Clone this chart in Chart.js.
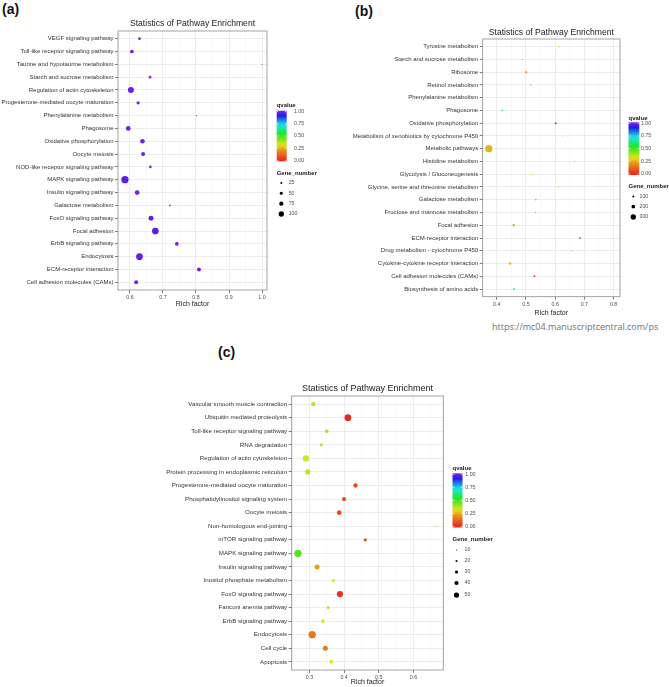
<!DOCTYPE html>
<html>
<head>
<meta charset="utf-8">
<script src="https://cdn.jsdelivr.net/npm/chart.js@4.4.0/dist/chart.umd.min.js"></script>
<style>
  body { margin: 0; background: #fff; width: 669px; height: 687px; position: relative; overflow: hidden; }
  canvas { position: absolute; }
  .tag { position: absolute; font: bold 14px "Liberation Sans", Arial, sans-serif; line-height: 14px; color: #111; }
  .url { position: absolute; font-family: "Open Sans", sans-serif; font-size: 9px; line-height: 10px; color: #707070; white-space: nowrap; }
</style>
</head>
<body>
<div class="tag" style="left:2px;top:2px">(a)</div>
<div class="tag" style="left:355px;top:4px">(b)</div>
<div class="tag" style="left:218px;top:345px">(c)</div>
<div class="url" style="left:492px;top:322px">https://mc04.manuscriptcentral.com/ps</div>

<canvas id="chartA" width="335" height="320" style="left:0;top:0"></canvas>
<canvas id="chartB" width="329" height="325" style="left:340px;top:0"></canvas>
<canvas id="chartC" width="350" height="357" style="left:150px;top:330px"></canvas>

<script>
// ---- panel (a) ----
const pathwaysA = [
  'VEGF signaling pathway',
  'Toll-like receptor signaling pathway',
  'Taurine and hypotaurine metabolism',
  'Starch and sucrose metabolism',
  'Regulation of actin cytoskeleton',
  'Progesterone-mediated oocyte maturation',
  'Phenylalanine metabolism',
  'Phagosome',
  'Oxidative phosphorylation',
  'Oocyte meiosis',
  'NOD-like receptor signaling pathway',
  'MAPK signaling pathway',
  'Insulin signaling pathway',
  'Galactose metabolism',
  'FoxO signaling pathway',
  'Focal adhesion',
  'ErbB signaling pathway',
  'Endocytosis',
  'ECM-receptor interaction',
  'Cell adhesion molecules (CAMs)'
];
const richA = [0.629, 0.606, 1.0, 0.661, 0.603, 0.625, 0.801, 0.595, 0.638, 0.640,
               0.662, 0.585, 0.622, 0.721, 0.664, 0.677, 0.742, 0.629, 0.809, 0.619];
const genesA = [41, 64, 3, 41, 116, 55, 9, 86, 86, 70, 41, 145, 86, 18, 93, 132, 64, 132, 70, 70];
const qvalA = [0.99, 0.98, 1.0, 1.0, 0.97, 0.99, 1.0, 0.98, 0.98, 0.98,
               1.0, 0.96, 0.98, 1.0, 0.97, 0.96, 0.98, 0.97, 0.98, 0.98];
const geneBreaksA = [25, 50, 75, 100];

// ---- panel (b) ----
const pathwaysB = [
  'Tyrosine metabolism',
  'Starch and sucrose metabolism',
  'Ribosome',
  'Retinol metabolism',
  'Phenylalanine metabolism',
  'Phagosome',
  'Oxidative phosphorylation',
  'Metabolism of xenobiotics by cytochrome P450',
  'Metabolic pathways',
  'Histidine metabolism',
  'Glycolysis / Gluconeogenesis',
  'Glycine, serine and threonine metabolism',
  'Galactose metabolism',
  'Fructose and mannose metabolism',
  'Focal adhesion',
  'ECM-receptor interaction',
  'Drug metabolism - cytochrome P450',
  'Cytokine-cytokine receptor interaction',
  'Cell adhesion molecules (CAMs)',
  'Biosynthesis of amino acids'
];
const richB = [0.613, 0.488, 0.501, 0.517, 0.799, 0.419, 0.602, 0.626, 0.373, 0.667,
               0.522, 0.611, 0.534, 0.533, 0.458, 0.685, 0.657, 0.446, 0.529, 0.459];
const genesB = [55, 60, 100, 62, 40, 80, 95, 58, 421, 52, 66, 54, 60, 58, 118, 78, 75, 120, 96, 92];
const qvalB = [0.27, 0.70, 0.19, 0.60, 0.30, 0.70, 0.01, 0.29, 0.27, 0.29,
               0.32, 0.29, 0.53, 0.69, 0.25, 0.95, 0.30, 0.27, 0.09, 0.69];
const geneBreaksB = [100, 200, 300];

// ---- panel (c) ----
const pathwaysC = [
  'Vascular smooth muscle contraction',
  'Ubiquitin mediated proteolysis',
  'Toll-like receptor signaling pathway',
  'RNA degradation',
  'Regulation of actin cytoskeleton',
  'Protein processing in endoplasmic reticulum',
  'Progesterone-mediated oocyte maturation',
  'Phosphatidylinositol signaling system',
  'Oocyte meiosis',
  'Non-homologous end-joining',
  'mTOR signaling pathway',
  'MAPK signaling pathway',
  'Insulin signaling pathway',
  'Inositol phosphate metabolism',
  'FoxO signaling pathway',
  'Fanconi anemia pathway',
  'ErbB signaling pathway',
  'Endocytosis',
  'Cell cycle',
  'Apoptosis'
];
const richC = [0.311, 0.411, 0.350, 0.334, 0.290, 0.295, 0.433, 0.400, 0.386, 0.665,
               0.461, 0.267, 0.322, 0.369, 0.388, 0.354, 0.339, 0.308, 0.346, 0.363];
const genesC = [41, 64, 35, 29, 60, 50, 41, 41, 45, 14, 31, 70, 48, 29, 60, 26, 35, 70, 48, 38];
const qvalC = [0.375, 0.02, 0.29, 0.39, 0.35, 0.36, 0.075, 0.09, 0.09, 0.30,
               0.09, 0.48, 0.24, 0.36, 0.04, 0.39, 0.32, 0.175, 0.175, 0.33];
const geneBreaksC = [10, 20, 30, 40, 50];

const qBreaks = [0, 0.25, 0.5, 0.75, 1];

const FONT = '"Liberation Sans", Arial, sans-serif';
Chart.defaults.font.family = FONT;

// qvalue -> rainbow colour (red .. purple), same as the colour bar
const hueStops = [[0, 0], [0.25, 40], [0.5, 110], [0.75, 190], [1, 272]];
function qColor(q) {
  let h = 272;
  for (let i = 1; i < hueStops.length; i++) {
    if (q <= hueStops[i][0]) {
      const [q0, h0] = hueStops[i - 1], [q1, h1] = hueStops[i];
      h = h0 + (h1 - h0) * (q - q0) / (q1 - q0);
      break;
    }
  }
  return `hsl(${h.toFixed(1)}, 80%, 51%)`;
}

// border, title and the two legends, drawn after the chart
function decor(spec, geneBreaks) {
  const L = spec.legend;
  const radius = n => spec.r0 + spec.k * n;
  return {
    id: 'decor',
    afterDraw(chart) {
      const { ctx, chartArea: a } = chart;
      ctx.save();
      ctx.strokeStyle = '#8c8c8c';
      ctx.lineWidth = 0.8;
      ctx.strokeRect(a.left, a.top, a.right - a.left, a.bottom - a.top);

      ctx.fillStyle = '#1a1a1a';
      ctx.textBaseline = 'middle';
      ctx.textAlign = 'center';
      ctx.font = `${spec.titleSize}px ${FONT}`;
      ctx.fillText('Statistics of Pathway Enrichment', (a.left + a.right) / 2, spec.titleY);

      // qvalue colour bar
      ctx.textAlign = 'left';
      ctx.font = `bold 6px ${FONT}`;
      ctx.fillText('qvalue', L.x, L.qTitleY);
      const grad = ctx.createLinearGradient(0, L.barBottom, 0, L.barTop);
      for (let s = 0; s <= 20; s++) grad.addColorStop(s / 20, qColor(s / 20));
      ctx.fillStyle = grad;
      ctx.fillRect(L.x, L.barTop, L.barW, L.barBottom - L.barTop);
      ctx.font = `5.2px ${FONT}`;
      ctx.strokeStyle = '#fff';
      ctx.lineWidth = 0.6;
      qBreaks.forEach(q => {
        const y = L.barBottom - 1 - q * (L.barBottom - L.barTop - 2);
        ctx.beginPath();
        ctx.moveTo(L.x, y); ctx.lineTo(L.x + 2, y);
        ctx.moveTo(L.x + L.barW - 2, y); ctx.lineTo(L.x + L.barW, y);
        ctx.stroke();
        ctx.fillStyle = '#4d4d4d';
        ctx.fillText(q.toFixed(2), L.labelX, y);
      });

      // Gene_number size legend
      ctx.fillStyle = '#1a1a1a';
      ctx.font = `bold 6px ${FONT}`;
      ctx.fillText('Gene_number', L.x, L.geneTitleY);
      ctx.font = `5.2px ${FONT}`;
      geneBreaks.forEach((n, i) => {
        ctx.fillStyle = '#000';
        ctx.beginPath();
        ctx.arc(L.dotX, L.geneY[i], radius(n), 0, Math.PI * 2);
        ctx.fill();
        ctx.fillStyle = '#4d4d4d';
        ctx.fillText(String(n), L.geneLabelX, L.geneY[i]);
      });
      ctx.restore();
    }
  };
}

function drawPanel(canvasId, spec, cats, rich, qv, genes, geneBreaks) {
  const canvas = document.getElementById(canvasId);
  const W = canvas.width, H = canvas.height;
  const xTitleSize = 7;
  const xAxisH = spec.xTitleY - spec.bottom + xTitleSize * 1.2 / 2;
  const radius = n => spec.r0 + spec.k * n;
  const isMajor = v => Math.round(v * 20) % 2 === 0;

  return new Chart(canvas.getContext('2d'), {
    type: 'scatter',
    data: {
      datasets: [{
        data: cats.map((c, i) => ({ x: rich[i], y: i })),
        pointRadius: genes.map(radius),
        pointHoverRadius: genes.map(radius),
        pointBackgroundColor: qv.map(qColor),
        pointBorderWidth: 0
      }]
    },
    options: {
      responsive: false,
      animation: false,
      events: [],
      layout: {
        padding: { left: 0, top: spec.top, right: W - spec.right, bottom: H - spec.bottom - xAxisH }
      },
      plugins: { legend: { display: false }, tooltip: { enabled: false } },
      scales: {
        x: {
          type: 'linear',
          bounds: 'data',
          min: spec.xmin,
          max: spec.xmax,
          afterBuildTicks: s => {
            const t = [];
            for (let k = Math.ceil(spec.xmin * 20 - 1e-9); k <= Math.floor(spec.xmax * 20 + 1e-9); k++) {
              t.push({ value: k / 20 });
            }
            s.ticks = t;
          },
          afterFit: s => { s.height = xAxisH; },
          ticks: {
            autoSkip: false,
            maxRotation: 0,
            padding: 1.5,
            color: '#4d4d4d',
            font: { size: 5.3 },
            callback: v => (isMajor(v) ? v.toFixed(1) : '')
          },
          grid: {
            color: c => (c.tick && !isMajor(c.tick.value) ? '#f3f3f3' : '#e8e8e8'),
            lineWidth: c => (c.tick && !isMajor(c.tick.value) ? 0.5 : 0.8),
            tickLength: 3,
            tickWidth: 0.7,
            tickColor: c => (c.tick && !isMajor(c.tick.value) ? 'rgba(0,0,0,0)' : '#444')
          },
          border: { display: false },
          title: { display: true, text: 'Rich factor', color: '#1a1a1a', font: { size: xTitleSize }, padding: 0 }
        },
        y: {
          type: 'linear',
          bounds: 'data',
          reverse: true,
          min: -0.6,
          max: cats.length - 0.4,
          afterBuildTicks: s => { s.ticks = cats.map((c, i) => ({ value: i })); },
          afterFit: s => { s.width = spec.left; },
          ticks: {
            autoSkip: false,
            padding: 1.5,
            color: '#333',
            font: { size: spec.labelSize },
            callback: v => cats[v]
          },
          grid: { color: '#e8e8e8', lineWidth: 0.8, tickLength: 3, tickWidth: 0.7, tickColor: '#444' },
          border: { display: false }
        }
      }
    },
    plugins: [decor(spec, geneBreaks)]
  });
}

// panel geometry in each canvas's own pixels
drawPanel('chartA', {
  left: 118, top: 31, right: 267, bottom: 290,
  xmin: 0.564, xmax: 1.015,
  titleY: 24, titleSize: 8.6, xTitleY: 304, labelSize: 6,
  r0: 0.45, k: 0.022,
  legend: { x: 276.7, qTitleY: 105.7, barTop: 110.7, barBottom: 161.3, barW: 10, labelX: 294,
            geneTitleY: 173.3, geneY: [183, 193.3, 203.7, 214], dotX: 281.3, geneLabelX: 288.7 }
}, pathwaysA, richA, qvalA, genesA, geneBreaksA);

drawPanel('chartB', {
  left: 142.7, top: 39, right: 280, bottom: 296.7,
  xmin: 0.352, xmax: 0.822,
  titleY: 32.3, titleSize: 8.6, xTitleY: 312.7, labelSize: 6,
  r0: 0.18, k: 0.00825,
  legend: { x: 288.5, qTitleY: 118.3, barTop: 122.3, barBottom: 175, barW: 10.8, labelX: 301,
            geneTitleY: 186.5, geneY: [196.5, 206.7, 217], dotX: 293.3, geneLabelX: 299.5 }
}, pathwaysB, richB, qvalB, genesB, geneBreaksB);

drawPanel('chartC', {
  left: 141.7, top: 66, right: 293.3, bottom: 340,
  xmin: 0.249, xmax: 0.686,
  titleY: 59, titleSize: 9, xTitleY: 352, labelSize: 6.2,
  r0: 0, k: 0.0525,
  legend: { x: 302.5, qTitleY: 138.7, barTop: 143.3, barBottom: 197.5, barW: 10, labelX: 315.3,
            geneTitleY: 209.7, geneY: [220, 231, 242, 253, 265], dotX: 306.5, geneLabelX: 314.5 }
}, pathwaysC, richC, qvalC, genesC, geneBreaksC);
</script>
</body>
</html>
